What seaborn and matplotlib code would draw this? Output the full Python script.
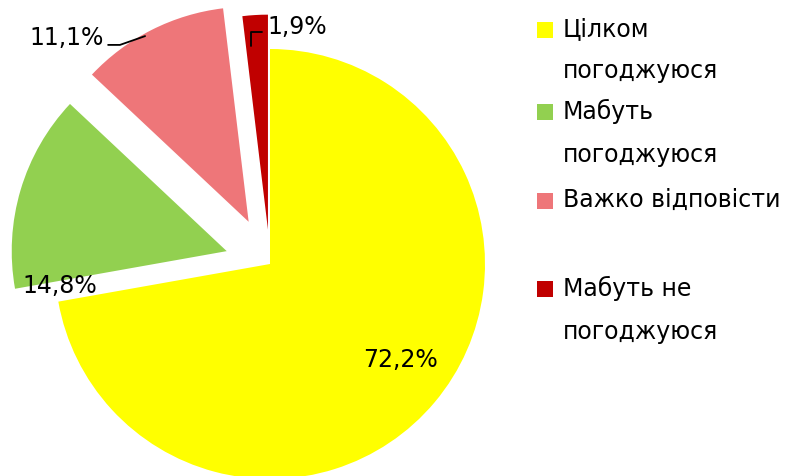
import matplotlib.pyplot as plt
import seaborn as sns
from matplotlib.patches import Rectangle

# data
labels = ['Цілком\nпогоджуюся', 'Мабуть\nпогоджуюся', 'Важко відповісти', 'Мабуть не\nпогоджуюся']
values = [72.2, 14.8, 11.1, 1.9]
pct_text = ['72,2%', '14,8%', '11,1%', '1,9%']
colors = ['#FFFF00', '#92D050', '#EE7679', '#C00000']

sns.set_theme(style='white')
plt.rcParams['font.family'] = ['DejaVu Sans']
plt.rcParams['text.color'] = 'black'

fig = plt.figure(figsize=(7.91, 4.77), dpi=100)
ax = fig.add_axes([0, 0, 540 / 791, 1])

wedges, _ = ax.pie(values, colors=sns.color_palette(colors), startangle=90,
                   counterclock=False, explode=[0, 0.21, 0.22, 0.16],
                   wedgeprops=dict(linewidth=0))
ax.set_xlim(-270 / 215, 270 / 215)
ax.set_ylim(-212 / 215, 265 / 215)
ax.set_aspect('equal')
ax.axis('off')

# percentage labels
fs = 17
ax.text(0.605, -0.44, pct_text[0], fontsize=fs, ha='center', va='center')
ax.text(-0.977, -0.10, pct_text[1], fontsize=fs, ha='center', va='center')
ax.text(-0.944, 1.056, pct_text[2], fontsize=fs, ha='center', va='center')
ax.text(0.126, 1.107, pct_text[3], fontsize=fs, ha='center', va='center')

# leader lines
ax.plot([-0.753, -0.698, -0.581], [1.019, 1.019, 1.06], color='black', lw=1.3)
ax.plot([-0.088, -0.088, -0.037], [1.014, 1.079, 1.079], color='black', lw=1.3)

# legend drawn by hand so the squares line up with the first line
tops = [31, 113, 202, 290]
for lab, col, y in zip(labels, colors, tops):
    fig.patches.append(Rectangle((537 / 791, 1 - (y + 8) / 477), 16 / 791, 16 / 477,
                                 transform=fig.transFigure, facecolor=col,
                                 edgecolor='none'))
    fig.text(563 / 791, 1 - (y - 14) / 477, lab, fontsize=fs, va='top', ha='left',
             linespacing=1.97)

fig.savefig('out.png', dpi=100)
